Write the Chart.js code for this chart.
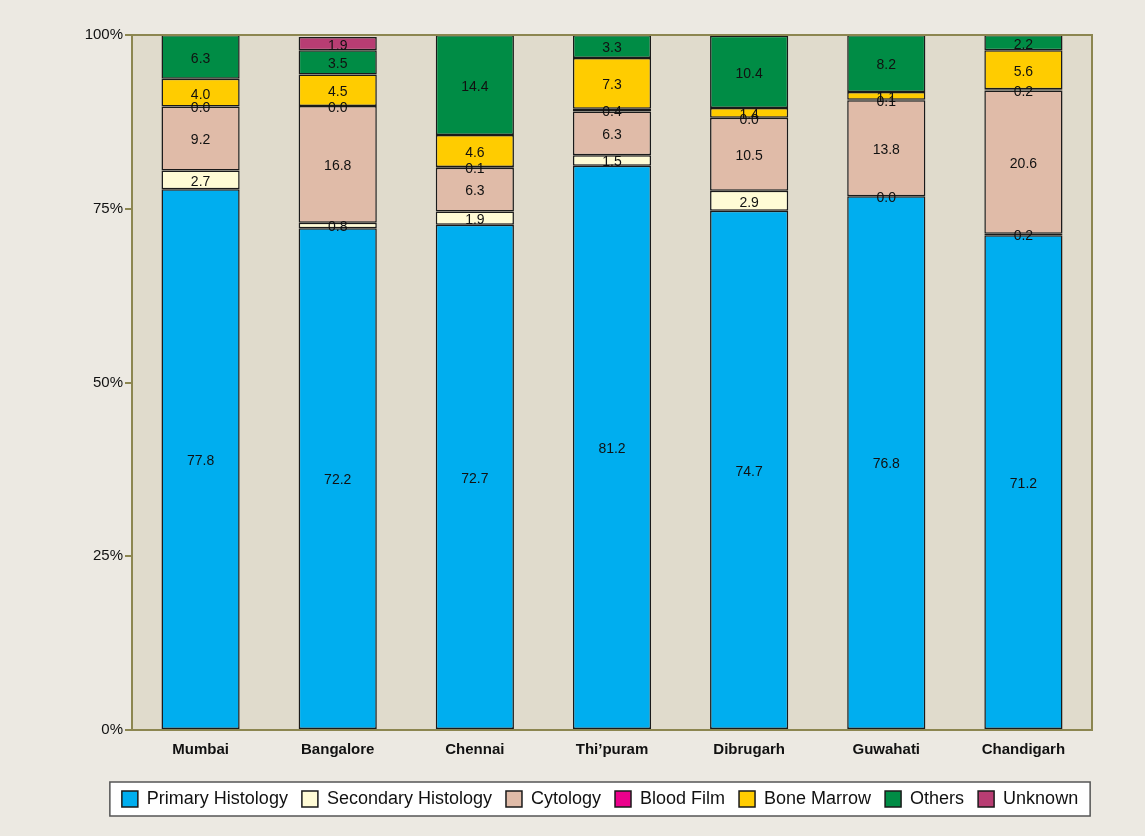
<!DOCTYPE html>
<html>
<head>
<meta charset="utf-8">
<script src="https://cdn.jsdelivr.net/npm/chart.js@4.4.1/dist/chart.umd.min.js"></script>
<style>
  html, body { margin: 0; padding: 0; background: #ECE9E2; }
  #wrap { width: 1145px; height: 836px; }
</style>
</head>
<body>
<div id="wrap"><canvas id="chart" width="1145" height="836"></canvas></div>
<script>
'use strict';

// 지역(x축)
const cities = ['Mumbai', 'Bangalore', 'Chennai', 'Thi\u2019puram', 'Dibrugarh', 'Guwahati', 'Chandigarh'];

// 각 진단 방법별 비율(%), null = 없음
const primaryHistology   = [77.8, 72.2, 72.7, 81.2, 74.7, 76.8, 71.2];
const secondaryHistology = [2.7, 0.8, 1.9, 1.5, 2.9, 0.0, 0.2];
const cytology           = [9.2, 16.8, 6.3, 6.3, 10.5, 13.8, 20.6];
const bloodFilm          = [0.0, 0.0, 0.1, 0.4, 0.0, 0.1, 0.2];
const boneMarrow         = [4.0, 4.5, 4.6, 7.3, 1.4, 1.1, 5.6];
const others             = [6.3, 3.5, 14.4, 3.3, 10.4, 8.2, 2.2];
const unknown            = [null, 1.9, null, null, null, null, null];

// y축 눈금
const yTicks = [0, 25, 50, 75, 100];

const olive = '#8C8650';
const sans = "'Liberation Sans', Arial, sans-serif";

function ds(label, data, color) {
    return {
        label: label,
        data: data,
        backgroundColor: color,
        borderColor: '#1A1A1A',
        borderWidth: 1.5,
        borderSkipped: false
    };
}

// 배경, 테두리, 범례 상자
const framePlugin = {
    id: 'frame',
    afterLayout(chart) {
        // 범례 가운데를 x=600 근처로 옮김
        const lg = chart.legend;
        if (lg) {
            const dx = 600 - (lg.left + lg.right) / 2;
            lg.left += dx;
            lg.right += dx;
        }
    },
    beforeDraw(chart) {
        const ctx = chart.ctx;
        const a = chart.chartArea;
        ctx.save();
        ctx.fillStyle = '#ECE9E2';
        ctx.fillRect(0, 0, chart.width, chart.height);
        ctx.fillStyle = '#E0DBCC';
        ctx.fillRect(a.left, a.top, a.right - a.left, a.bottom - a.top);

        // 범례 상자
        const lg = chart.legend;
        if (lg && lg.lineWidths) {
            const pad = lg.options.labels.padding;
            const lw = lg.lineWidths[0];
            const start = (lg.left + lg.right + pad - lw) / 2;
            const end = start + lw - pad;
            const cy = lg.top + pad + 9;
            ctx.fillStyle = '#FFFFFF';
            ctx.strokeStyle = '#555555';
            ctx.lineWidth = 1.5;
            ctx.fillRect(start - 12, cy - 17, end - start + 24, 34);
            ctx.strokeRect(start - 12, cy - 17, end - start + 24, 34);
        }
        ctx.restore();
    },
    afterDraw(chart) {
        const ctx = chart.ctx;
        const a = chart.chartArea;
        ctx.save();
        ctx.strokeStyle = olive;
        ctx.lineWidth = 2;
        ctx.beginPath();
        ctx.moveTo(a.left, a.top);
        ctx.lineTo(a.right, a.top);
        ctx.lineTo(a.right, a.bottom);
        ctx.stroke();
        ctx.restore();
    }
};

// 막대 안 값 표시
const valuePlugin = {
    id: 'values',
    afterDatasetsDraw(chart) {
        const ctx = chart.ctx;
        ctx.save();
        ctx.font = "14px " + sans;
        ctx.fillStyle = '#111111';
        ctx.textAlign = 'center';
        ctx.textBaseline = 'middle';
        chart.data.datasets.forEach((d, i) => {
            const meta = chart.getDatasetMeta(i);
            meta.data.forEach((bar, j) => {
                const v = d.data[j];
                if (v === null || v === undefined) return;
                const y = (bar.y + bar.base) / 2;
                ctx.fillText(v.toFixed(1), bar.x, y + 2);
            });
        });
        ctx.restore();
    }
};

const chart = new Chart(document.getElementById('chart'), {
    type: 'bar',
    data: {
        labels: cities,
        datasets: [
            ds('Primary Histology', primaryHistology, '#00AEEF'),
            ds('Secondary Histology', secondaryHistology, '#FFFBD5'),
            ds('Cytology', cytology, '#E0BBA8'),
            ds('Blood Film', bloodFilm, '#EC008C'),
            ds('Bone Marrow', boneMarrow, '#FFCC00'),
            ds('Others', others, '#008C45'),
            ds('Unknown', unknown, '#B83D73')
        ]
    },
    options: {
        responsive: false,
        animation: false,
        layout: { padding: { top: 35, right: 53, left: 0, bottom: 18 } },
        datasets: { bar: { categoryPercentage: 1, barPercentage: 0.57 } },
        scales: {
            x: {
                stacked: true,
                grid: { display: false, drawTicks: false },
                border: { color: olive, width: 2 },
                ticks: {
                    padding: 11,
                    color: '#111111',
                    font: { family: sans, size: 15, weight: 'bold' }
                },
                afterFit(s) { s.height = 46; }
            },
            y: {
                stacked: true,
                min: 0,
                max: 100,
                afterBuildTicks(s) { s.ticks = yTicks.map(v => ({ value: v })); },
                grid: { drawOnChartArea: false, color: olive, tickLength: 7, lineWidth: 2 },
                border: { color: olive, width: 2 },
                ticks: {
                    padding: 2,
                    color: '#111111',
                    font: { family: sans, size: 15 },
                    callback: v => v + '%'
                },
                afterFit(s) { s.width = 132; }
            }
        },
        plugins: {
            legend: {
                position: 'bottom',
                fullSize: true,
                labels: {
                    boxWidth: 16,
                    boxHeight: 16,
                    padding: 14,
                    color: '#111111',
                    font: { family: sans, size: 18 }
                }
            },
            tooltip: { enabled: false }
        }
    },
    plugins: [framePlugin, valuePlugin]
});
</script>
</body>
</html>
